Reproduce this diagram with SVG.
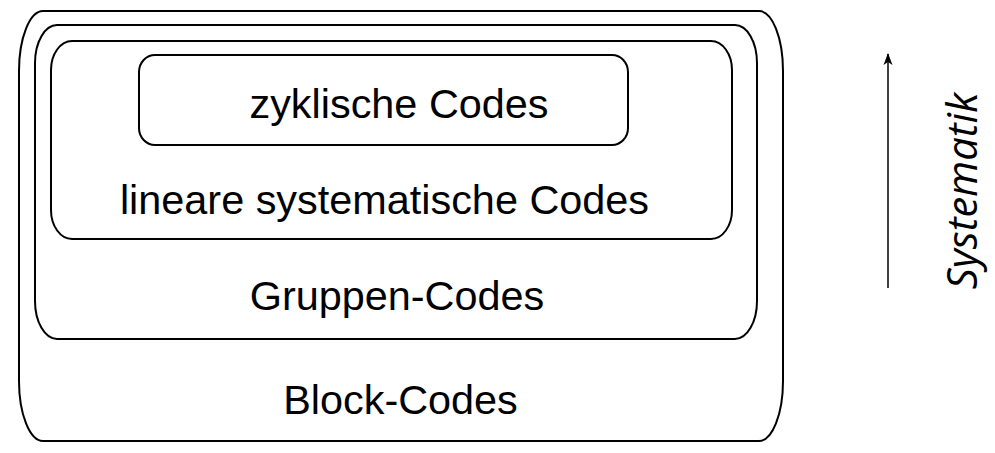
<svg xmlns="http://www.w3.org/2000/svg" width="995" height="453" viewBox="0 0 995 453">
<style>
.box{fill:none;stroke:#000;stroke-width:2}
.lbl{font-family:"Liberation Sans",Arial,sans-serif;font-size:41.4px;fill:#000;text-anchor:middle}
.ax{font-family:"Open Sans","Noto Sans",sans-serif;font-style:italic;font-size:41.5px;fill:#000;text-anchor:middle}
</style>
<defs>
<marker id="ah" markerWidth="12" markerHeight="10" refX="11" refY="5" orient="auto" markerUnits="userSpaceOnUse">
<path d="M0,0.5 L12,5 L0,9.5 L3,5 Z" fill="#000"/>
</marker>
</defs>
<g id="block-codes">
<rect class="box" x="19" y="11" width="764" height="430" rx="24" ry="60"/>
<text class="lbl" x="400.5" y="414">Block-Codes</text>
</g>
<g id="gruppen-codes">
<rect class="box" x="35" y="25" width="722" height="314" rx="22" ry="38"/>
<text class="lbl" x="397" y="310">Gruppen-Codes</text>
</g>
<g id="lineare-codes">
<rect class="box" x="51" y="41" width="681" height="198" rx="21" ry="29"/>
<text class="lbl" x="384.5" y="214">lineare systematische Codes</text>
</g>
<g id="zyklische-codes">
<rect class="box" x="139" y="55" width="489" height="90" rx="16" ry="17"/>
<text class="lbl" x="399" y="118">zyklische Codes</text>
</g>
<g id="connectors">
<line x1="888" y1="288" x2="888" y2="54" stroke="#000" stroke-width="1.5" marker-end="url(#ah)"/>
</g>
<g id="systematik">
<text class="ax" transform="translate(977,191) rotate(-90)">Systematik</text>
</g>
</svg>
